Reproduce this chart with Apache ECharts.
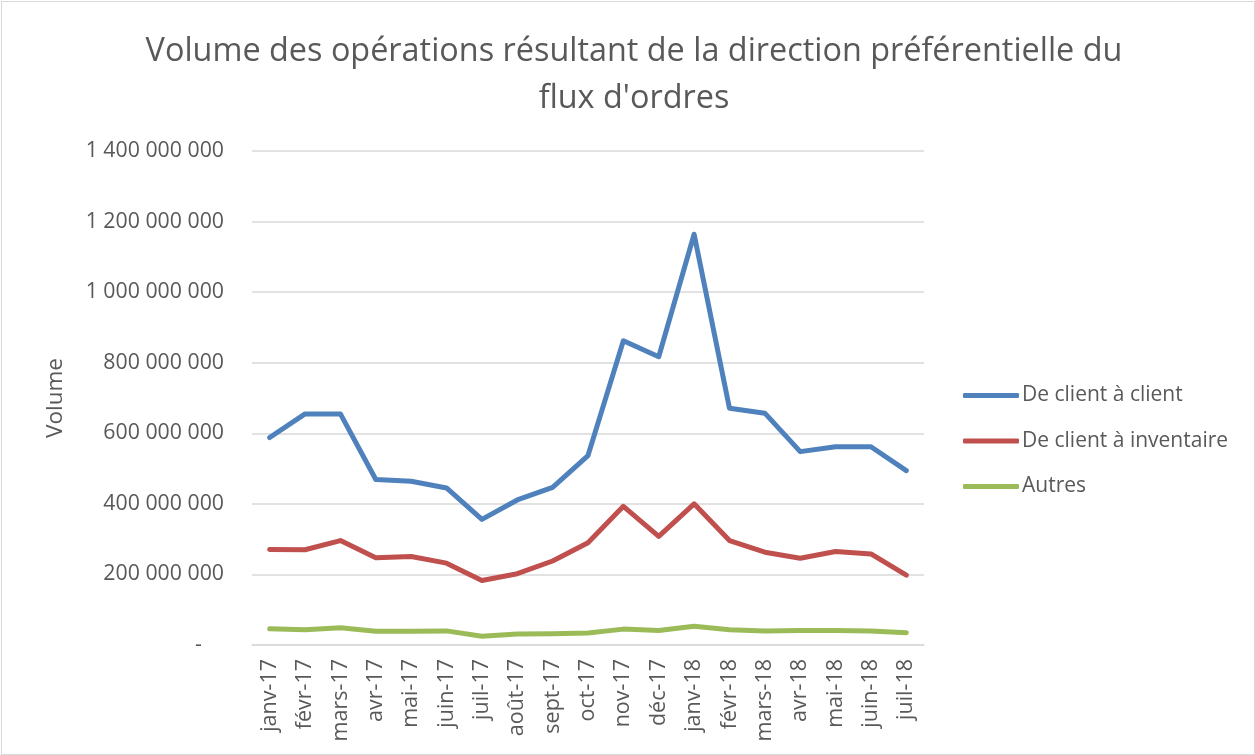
<!DOCTYPE html>
<html>
<head>
<meta charset="utf-8">
<script src="https://cdn.jsdelivr.net/npm/echarts@6/dist/echarts.min.js"></script>
<style>
  html, body { margin: 0; padding: 0; background: #fff; }
  #chart { position: absolute; left: 1px; top: 1px; width: 1252px; height: 752px; border: 1px solid #d9d9d9; }
</style>
</head>
<body>
<div id="chart"></div>
<script>
// categories (mois)
const mois = ['janv-17', 'févr-17', 'mars-17', 'avr-17', 'mai-17', 'juin-17', 'juil-17', 'août-17', 'sept-17', 'oct-17',
  'nov-17', 'déc-17', 'janv-18', 'févr-18', 'mars-18', 'avr-18', 'mai-18', 'juin-18', 'juil-18'];

// volumes
const clientClient = [588e6, 655e6, 655e6, 469e6, 464e6, 445e6, 356e6, 411e6, 447e6, 537e6,
  862e6, 817e6, 1164e6, 671e6, 657e6, 548e6, 562e6, 562e6, 494e6];
const clientInventaire = [271e6, 270e6, 296e6, 247e6, 251e6, 232e6, 183e6, 202e6, 238e6, 290e6,
  393e6, 308e6, 400e6, 296e6, 263e6, 246e6, 265e6, 258e6, 198e6];
const autres = [46e6, 43e6, 49e6, 39e6, 39e6, 40e6, 25e6, 31e6, 32e6, 34e6,
  45e6, 41e6, 53e6, 43e6, 40e6, 41e6, 41e6, 40e6, 35e6];

const seriesNames = ['De client à client', 'De client à inventaire', 'Autres'];

const font = '"Open Sans", sans-serif';
const grey = '#595959';

function fmt(v) {
  if (v === 0) return '-    ';
  return String(v).replace(/\B(?=(\d{3})+(?!\d))/g, ' ');
}

let chart = echarts.init(document.getElementById('chart'), null, { renderer: 'canvas' });

const line = (name, data, color) => ({
  name: name,
  type: 'line',
  data: data,
  symbol: 'none',
  smooth: false,
  lineStyle: { color: color, width: 5, cap: 'round', join: 'round' },
  itemStyle: { color: color },
  emphasis: { disabled: true }
});

let option = {
  animation: false,
  backgroundColor: '#fff',
  title: {
    text: 'Volume des opérations résultant de la direction préférentielle du\nflux d\'ordres',
    left: 627,
    textAlign: 'center',
    top: 21,
    textStyle: { fontFamily: font, fontWeight: 'normal', fontSize: 32.4, color: grey, lineHeight: 47 }
  },
  legend: {
    orient: 'vertical',
    left: 956,
    top: 378,
    icon: 'roundRect',
    itemWidth: 56,
    itemHeight: 5,
    itemGap: 24.5,
    textStyle: { fontFamily: font, fontSize: 21, color: grey, padding: [0, 0, 0, -2] },
    data: seriesNames
  },
  grid: { left: 250, right: 330, top: 149, bottom: 109 },
  xAxis: {
    type: 'category',
    data: mois,
    boundaryGap: true,
    axisLine: { lineStyle: { color: '#d9d9d9', width: 1.5 } },
    axisTick: { show: false },
    axisLabel: { rotate: 90, fontFamily: font, fontSize: 21.5, color: grey, margin: 14, interval: 0 }
  },
  yAxis: {
    type: 'value',
    min: 0,
    max: 1400000000,
    interval: 200000000,
    name: 'Volume',
    nameLocation: 'middle',
    nameGap: 185,
    nameTextStyle: { fontFamily: font, fontSize: 22.5, color: grey },
    axisLine: { show: false },
    axisTick: { show: false },
    splitLine: { lineStyle: { color: '#d9d9d9', width: 1.5 } },
    axisLabel: { fontFamily: font, fontSize: 21.3, color: grey, margin: 28, formatter: fmt }
  },
  series: [
    line(seriesNames[0], clientClient, '#4f81bd'),
    line(seriesNames[1], clientInventaire, '#c0504d'),
    line(seriesNames[2], autres, '#9bbb59')
  ]
};

option && chart.setOption(option);
</script>
</body>
</html>
